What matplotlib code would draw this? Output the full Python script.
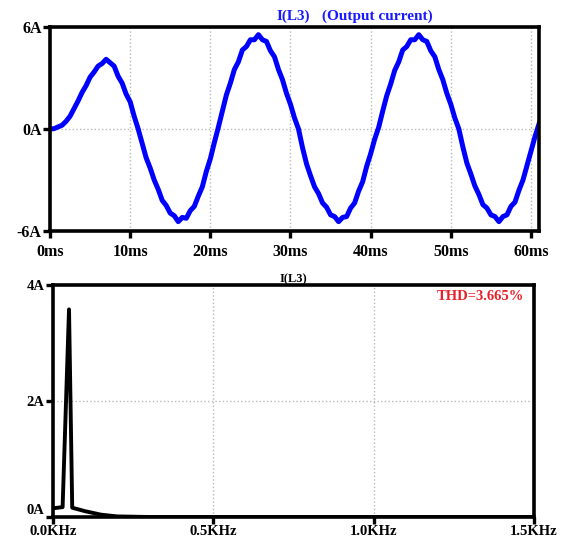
import numpy as np
import matplotlib as mpl
mpl.use("Agg")
import matplotlib.pyplot as plt

# output current I(L3), sampled every 0.5 ms (A)
sample_step_ms = 0.5
i_out = [
    0.00, 0.02, 0.12, 0.22, 0.45, 0.75, 1.20, 1.65, 2.15, 2.55,
    3.05, 3.35, 3.70, 3.85, 4.10, 3.90, 3.70, 3.10, 2.70, 2.05,
    1.60, 0.75, 0.00, -0.85, -1.70, -2.30, -3.00, -3.55, -4.20, -4.50,
    -4.95, -5.10, -5.45, -5.20, -5.25, -4.80, -4.55, -3.95, -3.40, -2.50,
    -1.75, -0.80, 0.10, 1.05, 2.00, 2.70, 3.50, 3.95, 4.65, 4.85,
    5.25, 5.25, 5.55, 5.25, 5.15, 4.60, 4.25, 3.50, 2.90, 2.10,
    1.45, 0.65, 0.00, -1.10, -2.05, -2.75, -3.40, -3.80, -4.35, -4.60,
    -5.05, -5.15, -5.45, -5.20, -5.15, -4.65, -4.35, -3.65, -3.10, -2.20,
    -1.45, -0.60, 0.10, 1.05, 1.95, 2.65, 3.45, 3.95, 4.65, 4.85,
    5.25, 5.25, 5.55, 5.25, 5.15, 4.60, 4.25, 3.50, 2.90, 2.10,
    1.45, 0.65, 0.00, -1.05, -2.00, -2.65, -3.35, -3.85, -4.45, -4.65,
    -5.05, -5.15, -5.45, -5.15, -5.05, -4.55, -4.30, -3.60, -3.00, -2.15,
    -1.30, -0.45, 0.30,
]
time_ticks = [0, 10, 20, 30, 40, 50, 60]
time_labels = ["0ms", "10ms", "20ms", "30ms", "40ms", "50ms", "60ms"]
amp_ticks_top = [-6, 0, 6]
amp_labels_top = ["-6A", "0A", "6A"]

# FFT of I(L3)
freq_khz = [0.0, 0.03, 0.05, 0.06, 0.10, 0.15, 0.20, 0.30, 1.50]
fft_amp = [0.15, 0.17, 3.58, 0.16, 0.10, 0.04, 0.01, 0.0, 0.0]
freq_ticks = [0.0, 0.5, 1.0, 1.5]
freq_labels = ["0.0KHz", "0.5KHz", "1.0KHz", "1.5KHz"]
amp_ticks_fft = [0, 2, 4]
amp_labels_fft = ["0A", "2A", "4A"]
thd_text = "THD=3.665%"

plt.rcParams['font.family'] = ['Liberation Serif', 'DejaVu Serif']
plt.rcParams['font.weight'] = 'bold'


def style_axes(ax, xpad=1, size=11.5):
    for sp in ax.spines.values():
        sp.set_linewidth(2.6)
        sp.set_color('black')
    ax.tick_params(axis='both', direction='out', length=5, width=2.4,
                   labelsize=size, pad=1, top=False, right=False)
    ax.tick_params(axis='x', pad=xpad)
    ax.grid(True, color='#b8b8b8', linestyle=':', linewidth=1.0)
    for lab in ax.get_xticklabels() + ax.get_yticklabels():
        lab.set_fontweight('bold')


def main():
    fig = plt.figure(figsize=(5.63, 5.40), dpi=100)

    ax1 = fig.add_axes([0.0888, 0.5722, 0.8686, 0.3778])
    t_ms = np.arange(len(i_out)) * sample_step_ms
    ax1.plot(t_ms, i_out, color='#0000ff', linewidth=3.6, solid_joinstyle='round')
    ax1.set_xlim(0, 61)
    ax1.set_ylim(-6, 6)
    ax1.set_xticks(time_ticks)
    ax1.set_xticklabels(time_labels)
    ax1.set_yticks(amp_ticks_top)
    ax1.set_yticklabels(amp_labels_top)
    style_axes(ax1, xpad=4)

    fig.text(0.492, 0.970, "I(L3)", color='#1a1aff', fontsize=11,
             fontweight='bold', ha='left', va='center')
    fig.text(0.572, 0.970, "(Output current)", color='#1a1aff', fontsize=11,
             fontweight='bold', ha='left', va='center')

    ax2 = fig.add_axes([0.0941, 0.0426, 0.8544, 0.4296])
    ax2.plot(freq_khz, fft_amp, color='black', linewidth=2.8)
    ax2.set_xlim(0, 1.5)
    ax2.set_ylim(0, 4)
    ax2.set_xticks(freq_ticks)
    ax2.set_xticklabels(freq_labels)
    ax2.set_yticks(amp_ticks_fft)
    ax2.set_yticklabels(amp_labels_fft)
    style_axes(ax2, xpad=1, size=10.5)
    ax2.get_yticklabels()[0].set_verticalalignment('bottom')
    ax2.set_title("I(L3)", fontsize=9, fontweight='bold', pad=1)
    ax2.text(0.98, 0.95, thd_text, transform=ax2.transAxes, color='#e8202a',
             fontsize=10.5, fontweight='bold', ha='right', va='center')

    fig.savefig("out.png", dpi=100)
    plt.close(fig)


if __name__ == "__main__":
    main()
